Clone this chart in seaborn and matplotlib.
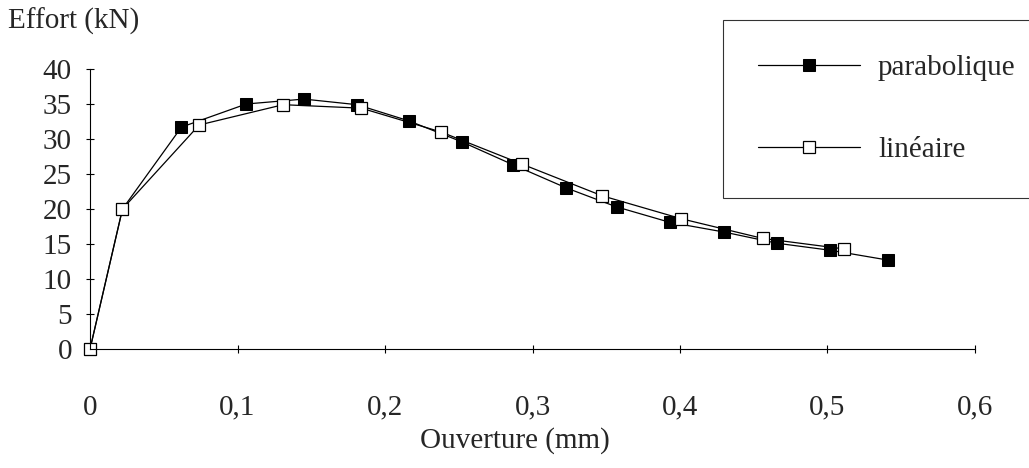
import pandas as pd
import matplotlib.pyplot as plt
import seaborn as sns

sns.set_style("white")
plt.rcParams["font.family"] = ["Liberation Serif", "DejaVu Serif"]

# values
x_para = [0, 0.022, 0.062, 0.106, 0.145, 0.181, 0.216, 0.252, 0.287, 0.323, 0.357,
          0.393, 0.430, 0.466, 0.502, 0.541]
y_para = [0, 20, 31.7, 35.0, 35.7, 34.9, 32.6, 29.6, 26.3, 23.0, 20.3,
          18.1, 16.7, 15.1, 14.1, 12.7]
x_lin = [0, 0.022, 0.074, 0.131, 0.184, 0.238, 0.293, 0.347, 0.401, 0.456, 0.511]
y_lin = [0, 20, 32.0, 34.9, 34.4, 31.0, 26.4, 21.9, 18.6, 15.8, 14.3]

x_ticks = [0, 0.1, 0.2, 0.3, 0.4, 0.5, 0.6]
x_labels = ["0", "0,1", "0,2", "0,3", "0,4", "0,5", "0,6"]
y_ticks = [0, 5, 10, 15, 20, 25, 30, 35, 40]

para = pd.DataFrame({"x": x_para, "y": y_para})
lin = pd.DataFrame({"x": x_lin, "y": y_lin})

fig = plt.figure(figsize=(10.29, 4.68), dpi=100)
ax = fig.add_axes([0.0875, 0.2543, 0.86, 0.5983])

sns.lineplot(data=para, x="x", y="y", ax=ax, color="black", linewidth=0.9,
             marker="s", markersize=9, markerfacecolor="black",
             markeredgecolor="black", estimator=None, sort=False,
             label="parabolique", clip_on=False)
sns.lineplot(data=lin, x="x", y="y", ax=ax, color="black", linewidth=0.9,
             marker="s", markersize=9, markerfacecolor="white",
             markeredgecolor="black", markeredgewidth=0.9, estimator=None,
             sort=False, label="linéaire", clip_on=False)

ax.set_xlim(0, 0.6)
ax.set_ylim(0, 40)
ax.set_xticks(x_ticks)
ax.set_xticklabels(x_labels)
ax.set_yticks(y_ticks)
ax.tick_params(axis="both", labelsize=21, direction="inout", length=6,
               width=0.8, color="black", bottom=True, left=True)
ax.tick_params(axis="x", pad=30)
ax.tick_params(axis="y", pad=10)

for side in ["top", "right"]:
    ax.spines[side].set_visible(False)
for side in ["left", "bottom"]:
    ax.spines[side].set_color("black")
    ax.spines[side].set_linewidth(0.8)

ax.set_xlabel("")
ax.set_ylabel("")
fig.text(0.008, 0.955, "Effort (kN)", fontsize=21, ha="left", va="center")
fig.text(0.5, 0.058, "Ouverture (mm)", fontsize=21, ha="center", va="center")

leg = ax.legend(loc="upper left", bbox_to_anchor=(0.703, 0.958),
                bbox_transform=fig.transFigure, fontsize=21, frameon=True,
                fancybox=False, edgecolor="black", handlelength=3.5,
                handletextpad=0.6, labelspacing=1.9, borderpad=1.2,
                borderaxespad=0)
leg.get_frame().set_linewidth(0.8)

plt.savefig("out.png", dpi=100)
